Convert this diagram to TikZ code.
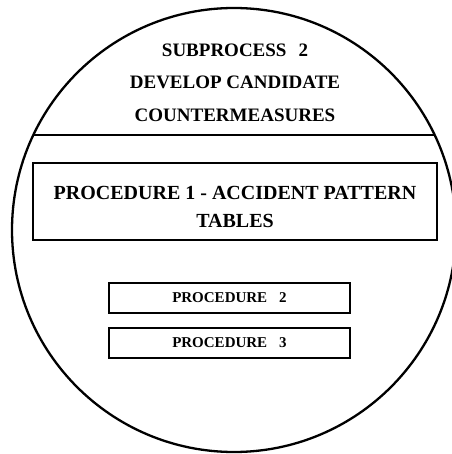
\documentclass[tikz,border=0pt]{standalone}
\usepackage{fontspec}
\setmainfont{Liberation Serif}
\usetikzlibrary{positioning}

\tikzset{
  outline/.style={draw, line width=1.7pt, outer sep=0pt},
  headtext/.style={font=\fontsize{19}{32.5}\selectfont\bfseries, align=center, inner sep=0pt},
  proctext/.style={font=\fontsize{20}{28.5}\selectfont\bfseries, align=center, inner sep=0pt},
  smallbox/.style={outline, font=\fontsize{15}{18}\selectfont\bfseries,
    minimum width=241pt, minimum height=30pt, inner sep=0pt}
}

\begin{document}
\begin{tikzpicture}[x=1pt, y=-1pt]
  \useasboundingbox (0,0) rectangle (451,454);

  % the subprocess disc, split by one line
  \node[circle, draw, line width=2.3pt, outer sep=0pt, minimum size=444pt, inner sep=0pt] (disc) at (234,230) {};
  \begin{scope}
    \clip (234,230) circle (222);
    \draw[line width=1.7pt] (0,135) -- (460,135);
  \end{scope}

  % heading above the line
  \node[headtext] (head) at (235,82.5)
    {SUBPROCESS\hspace{12pt}2\\DEVELOP CANDIDATE\\COUNTERMEASURES};

  % procedures
  \node[outline, minimum width=404pt, minimum height=77pt] (proc1) at (235,201.5) {};
  \node[proctext] (proc1text) at (235,207)
    {PROCEDURE 1 - ACCIDENT PATTERN\\TABLES};
  \node[smallbox] (proc2) at (229.5,298) {PROCEDURE\hspace{12pt}2};
  \node[smallbox, below=15pt of proc2] (proc3) {PROCEDURE\hspace{12pt}3};
\end{tikzpicture}
\end{document}
